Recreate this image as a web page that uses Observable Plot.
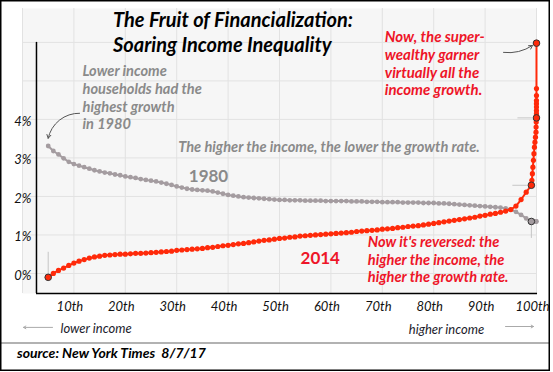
<!DOCTYPE html>
<html><head><meta charset="utf-8">
<script src="https://cdn.jsdelivr.net/npm/d3@7"></script>
<script src="https://cdn.jsdelivr.net/npm/@observablehq/plot@0.6"></script>
<style>
body{margin:0;background:#fff;}
#chart{width:553px;height:372px;}
</style>
</head><body><div id="chart"></div>
<script>
// ---- data (growth rate in % per year, by income percentile) ----
const pct = [5,6,7,8,9,10,11,12,13,14,15,16,17,18,19,20,21,22,23,24,25,26,27,28,29,30,31,32,33,34,35,36,37,38,39,40,41,42,43,44,45,46,47,48,49,50,51,52,53,54,55,56,57,58,59,60,61,62,63,64,65,66,67,68,69,70,71,72,73,74,75,76,77,78,79,80,81,82,83,84,85,86,87,88,89,90,91,92,93,94,95,96,97,98,99];
const growth1980 = [
  3.31,3.18,3.09,2.99,2.90,2.84,2.80,2.76,2.72,2.68,
  2.65,2.62,2.60,2.57,2.55,2.52,2.50,2.48,2.45,2.43,
  2.41,2.39,2.36,2.33,2.30,2.26,2.23,2.20,2.18,2.17,
  2.16,2.15,2.13,2.10,2.07,2.04,2.02,2.00,1.98,1.97,
  1.96,1.95,1.94,1.93,1.92,1.91,1.91,1.90,1.90,1.90,
  1.89,1.89,1.89,1.89,1.88,1.88,1.88,1.88,1.88,1.87,
  1.87,1.87,1.86,1.86,1.86,1.85,1.85,1.85,1.85,1.84,
  1.84,1.84,1.84,1.83,1.83,1.83,1.82,1.82,1.81,1.80,
  1.79,1.78,1.77,1.76,1.75,1.74,1.73,1.72,1.71,1.69,
  1.66,1.60,1.52,1.43,1.35];
const growth2014 = [
  -0.10,0.00,0.08,0.14,0.21,0.27,0.32,0.36,0.40,0.43,
  0.45,0.47,0.48,0.49,0.50,0.50,0.51,0.52,0.52,0.53,
  0.54,0.55,0.56,0.57,0.58,0.60,0.61,0.62,0.63,0.64,
  0.65,0.67,0.68,0.70,0.72,0.73,0.75,0.77,0.78,0.80,
  0.82,0.84,0.86,0.87,0.89,0.91,0.92,0.94,0.95,0.97,
  0.98,0.99,1.00,1.01,1.02,1.03,1.04,1.05,1.06,1.07,
  1.09,1.10,1.11,1.12,1.13,1.15,1.16,1.17,1.19,1.20,
  1.22,1.23,1.24,1.26,1.28,1.30,1.32,1.34,1.36,1.38,
  1.40,1.42,1.44,1.46,1.49,1.51,1.54,1.56,1.59,1.62,
  1.66,1.75,1.92,2.11,2.29];
// top-end detail (fractions of the top percentile)
const tailPct1980 = [99.5,99.9,99.99];
const tail1980 = [1.36,1.35,1.35];
const tailPct2014 = [99.1,99.2,99.3,99.4,99.5,99.6,99.7,99.8,99.9,99.92,99.95,99.99,99.991,99.992,99.993,99.994,99.995,99.996,99.997,99.999];
const tail2014 = [2.42,2.59,2.76,2.94,3.11,3.28,3.41,3.54,3.67,3.80,3.93,4.04,4.15,4.23,4.32,4.41,4.49,4.62,4.80,5.98];
const marked1980 = [99];
const marked2014 = [5,99,99.99,99.999];
const xTicks = [10,20,30,40,50,60,70,80,90,100];
const xGrid = [0,10,20,30,40,50,60,70,80,90,100];
const yTicks = [0,1,2,3,4];
const yGrid = [0,1,2,3,4,5,6];

// ---- tables ----
const s1980 = pct.map((p,i)=>({p, v: growth1980[i]})).concat(tailPct1980.map((p,i)=>({p, v: tail1980[i]})));
const s2014 = pct.map((p,i)=>({p, v: growth2014[i]})).concat(tailPct2014.map((p,i)=>({p, v: tail2014[i]})));
const m1980 = s1980.filter(d => marked1980.includes(d.p));
const m2014 = s2014.filter(d => marked2014.includes(d.p));
const firstRed = m2014.filter(d => d.p === 5);
const sideRed = m2014.filter(d => d.p === 99 || d.p === 99.99);

const GRAY = "#a49ca0", RED = "#ff2a0a", TEXTRED = "#ee1528", TEXTGRAY = "#8a8a8a", LEADER = "#c6c6c6";
const Y0 = -0.52, Y1 = 6.88, AXIS_X = 2.72;
const fam = "Lato, 'Open Sans', sans-serif";

const chart = Plot.plot({
  width: 553, height: 372,
  marginLeft: 22, marginRight: 17, marginTop: 8, marginBottom: 79,
  x: {domain: [0, 100]},
  y: {domain: [Y0, Y1]},
  style: {fontFamily: fam, background: "#fff", overflow: "visible"},
  marks: [
    Plot.frame({fill: "#f6f6f6", stroke: "none"}),
    Plot.gridX(xGrid, {stroke: "#e2e2e2", strokeOpacity: 1}),
    Plot.gridY(yGrid, {stroke: "#e2e2e2", strokeOpacity: 1}),
    Plot.axisX(xTicks, {tickSize: 0, tickPadding: 8, dx: -4, tickFormat: d => d + "th", fontStyle: "italic", fontSize: 13, fill: "#111", label: null}),
    Plot.axisY(yTicks, {tickSize: 0, tickPadding: 0, dx: 9, dy: 2, tickFormat: d => d + "%", fontStyle: "italic", fontSize: 13, fill: "#111", label: null}),
    Plot.ruleX([AXIS_X], {y1: 6, y2: Y0, stroke: "#000", strokeWidth: 1.5}),
    Plot.ruleY([Y0], {x1: AXIS_X, x2: 100.2, stroke: "#000", strokeWidth: 1.5}),
    // data-label leader lines
    Plot.ruleX(firstRed, {x: "p", y1: d => d.v + 0.08, y2: d => d.v + 0.65, stroke: LEADER}),
    Plot.ruleX(m1980, {x: "p", y1: d => d.v - 0.08, y2: d => d.v - 0.44, stroke: LEADER}),
    Plot.ruleY(sideRed, {y: "v", x1: d => d.p - 3.6, x2: d => d.p - 0.8, stroke: LEADER}),
    // series
    Plot.line(s1980, {x: "p", y: "v", stroke: GRAY, strokeWidth: 2}),
    Plot.dot(s1980, {x: "p", y: "v", r: 2.4, fill: GRAY, stroke: "none"}),
    Plot.line(s2014, {x: "p", y: "v", stroke: RED, strokeWidth: 2}),
    Plot.dot(s2014, {x: "p", y: "v", r: 2.6, fill: RED, stroke: "none"}),
    Plot.dot(m1980, {x: "p", y: "v", r: 3.3, fill: GRAY, stroke: "#333", strokeWidth: 1}),
    Plot.dot(m2014, {x: "p", y: "v", r: 3.3, fill: RED, stroke: "#333", strokeWidth: 1}),
    // annotations
    Plot.text(["Lower income\nhouseholds had the\nhighest growth\nin 1980"], {x: 11.67, y: 3.74, textAnchor: "start", lineAnchor: "bottom", lineHeight: 1.21, fontSize: 14.6, fontWeight: "bold", fontStyle: "italic", fill: TEXTGRAY}),
    Plot.arrow([0], {x1: 11.1, y1: 4.16, x2: 5.0, y2: 3.51, bend: -40, stroke: "#555", strokeWidth: 1, headLength: 6}),
    Plot.text(["The higher the income, the lower the growth rate."], {x: 30.29, y: 3.151, textAnchor: "start", lineAnchor: "bottom", fontSize: 14.6, fontWeight: "bold", fontStyle: "italic", fill: TEXTGRAY}),
    Plot.text(["1980"], {x: 32.35, y: 2.371, textAnchor: "start", lineAnchor: "bottom", fontSize: 17, fontWeight: "bold", fill: TEXTGRAY}),
    Plot.text(["2014"], {x: 54.09, y: 0.252, textAnchor: "start", lineAnchor: "bottom", fontSize: 17, fontWeight: "bold", fill: TEXTRED}),
    Plot.text(["Now it's reversed: the\nhigher the income, the\nhigher the growth rate."], {x: 67.18, y: -0.234, textAnchor: "start", lineAnchor: "bottom", lineHeight: 1.21, fontSize: 14.6, fontWeight: "bold", fontStyle: "italic", fill: TEXTRED}),
    Plot.text(["Now, the super-\nwealthy garner\nvirtually all the\nincome growth."], {x: 70.49, y: 4.623, textAnchor: "start", lineAnchor: "bottom", lineHeight: 1.19, fontSize: 15, fontWeight: "bold", fontStyle: "italic", fill: TEXTRED}),
    Plot.arrow([0], {x1: 93.58, y1: 5.74, x2: 99.22, y2: 5.92, bend: -20, stroke: "#555", strokeWidth: 1, headLength: 6}),
    // below the axis
    Plot.arrow([0], {x1: 5.84, y1: -1.40, x2: 0.2, y2: -1.40, stroke: "#aaa", strokeWidth: 1, headLength: 4}),
    Plot.arrow([0], {x1: 93.97, y1: -1.377, x2: 99.42, y2: -1.377, stroke: "#aaa", strokeWidth: 1, headLength: 4}),
    Plot.text(["lower income"], {x: 7.39, y: -1.551, textAnchor: "start", lineAnchor: "bottom", fontSize: 13, fontStyle: "italic", fill: "#1c1c2c"}),
    Plot.text(["higher income"], {x: 75.16, y: -1.566, textAnchor: "start", lineAnchor: "bottom", fontSize: 13, fontStyle: "italic", fill: "#1c1c2c"})
  ]
});

// title, source and outer border
const svg = d3.select(chart);
const g = svg.append("g").attr("font-family", fam).attr("text-anchor", "start");
g.append("text").attr("x", 113).attr("y", 26.7).attr("font-size", 20).attr("font-weight", "bold").attr("font-style", "italic").attr("fill", "#000").text("The Fruit of Financialization:");
g.append("text").attr("x", 113).attr("y", 51.7).attr("font-size", 20).attr("font-weight", "bold").attr("font-style", "italic").attr("fill", "#000").text("Soaring Income Inequality");
g.append("line").attr("x1", 1).attr("x2", 549).attr("y1", 343).attr("y2", 343).attr("stroke", "#999").attr("stroke-width", 1.5);
g.append("text").attr("x", 17).attr("y", 357.7).attr("font-size", 14).attr("font-weight", "bold").attr("font-style", "italic").attr("fill", "#000").style("white-space", "pre").text("source: New York Times  8/7/17");
g.append("rect").attr("x", 0.75).attr("y", 0.75).attr("width", 548.5).attr("height", 369.5).attr("fill", "none").attr("stroke", "#000").attr("stroke-width", 1.5);

document.getElementById("chart").appendChild(chart);
</script>
</body></html>
